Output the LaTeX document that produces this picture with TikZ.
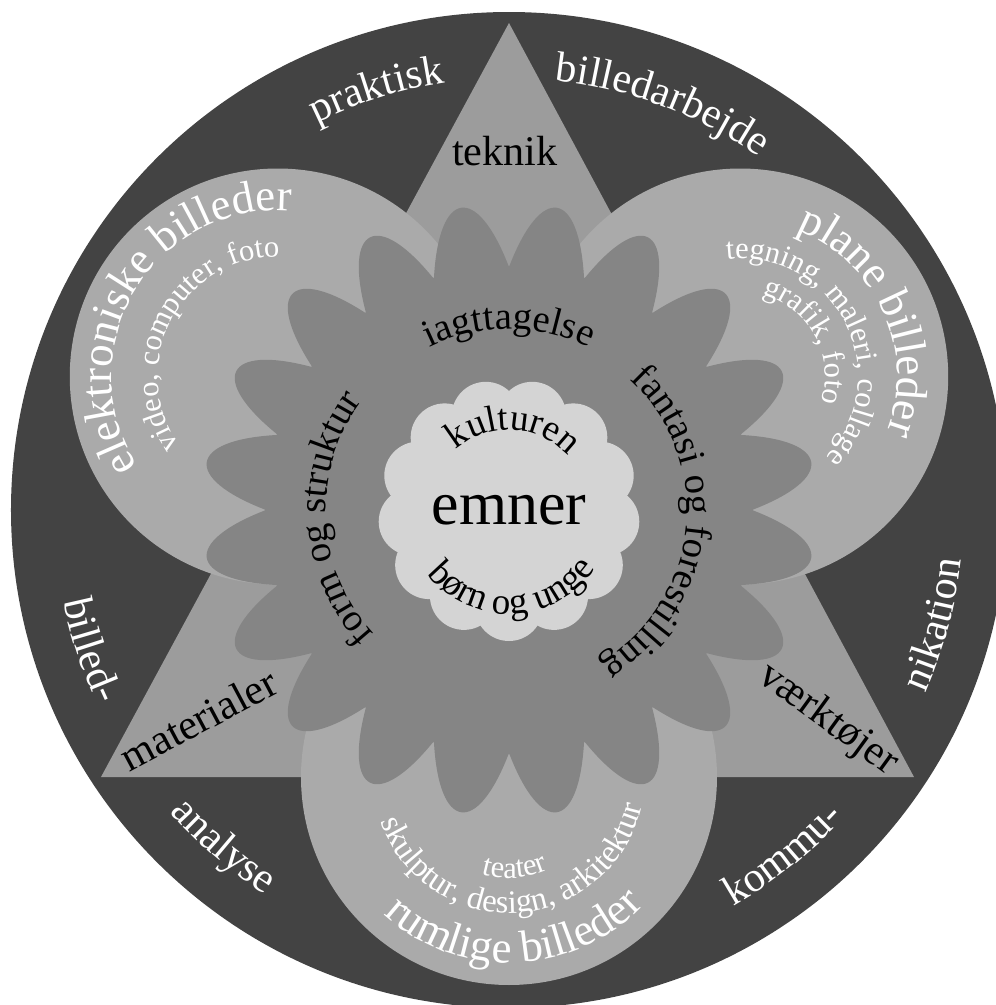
\documentclass[tikz,border=0pt]{standalone}
\usepackage{fontspec}
\setmainfont{Liberation Serif}
\usetikzlibrary{decorations.text}
\definecolor{ringgray}{HTML}{434343}
\definecolor{trigray}{HTML}{9C9C9C}
\definecolor{circgray}{HTML}{AAAAAA}
\definecolor{flowergray}{HTML}{858585}
\definecolor{heartgray}{HTML}{D4D4D4}
\newcommand{\ringfont}{\fontsize{12}{14}\selectfont}
\newcommand{\bigwhitefont}{\fontsize{12.8}{15}\selectfont}
\newcommand{\smallwhitefont}{\fontsize{8.7}{10}\selectfont}
\newcommand{\midwhitefont}{\fontsize{9.3}{11}\selectfont}
\newcommand{\flowerfont}{\fontsize{11}{13}\selectfont}
\newcommand{\heartfont}{\fontsize{10.6}{12}\selectfont}
\newcommand{\emnerfont}{\fontsize{17.6}{20}\selectfont}
\tikzset{
	ring/.style={fill=ringgray},
	wedge/.style={fill=trigray},
	bubble/.style={fill=circgray},
	petal/.style={fill=flowergray},
	heart/.style={fill=heartgray},
	% text bent along a path
	ringtext/.style={decorate, decoration={text along path, text align=center, text color=white, text={|\ringfont|#1}}},
	bigwhite/.style={decorate, decoration={text along path, text align=center, text color=white, text={|\bigwhitefont|#1}}},
	smallwhite/.style={decorate, decoration={text along path, text align=center, text color=white, text={|\smallwhitefont|#1}}},
	midwhite/.style={decorate, decoration={text along path, text align=center, text color=white, text={|\midwhitefont|#1}}},
	flowertext/.style={decorate, decoration={text along path, text align=center, text color=black, text={|\flowerfont|#1}}},
	hearttext/.style={decorate, decoration={text along path, text align=center, text color=black, text={|\heartfont|#1}}},
	cornertext/.style={font=\ringfont, anchor=base, inner sep=0pt},
}

\begin{document}
\begin{tikzpicture}[x=0.01cm, y=0.01cm]
	\useasboundingbox (-509,-495) rectangle (487,510);
	\clip (-509,-495) rectangle (487,510);
	
	\coordinate (c) at (0,0);
	\coordinate (left) at (150:267);
	\coordinate (right) at (30:267);
	\coordinate (bottom) at (270:267);
	
	\fill[ring] (c) circle (498);
	\fill[wedge] (0,487) -- (-408,-267) -- (405,-267) -- cycle;
	
	\fill[bubble] (left) circle (208);
	\fill[bubble] (right) circle (208);
	\fill[bubble] (bottom) circle (208);
	
	% flower with 20 petals
	\fill[petal] (c) circle (244);
	\foreach \a in {9,27,...,351}
		\fill[petal] ({\a-9}:243) .. controls +({\a+12}:46) and +({\a-90}:14) .. (\a:306)
			.. controls +({\a+90}:14) and +({\a-12}:46) .. ({\a+9}:243) -- cycle;
	
	% scalloped middle
	\fill[heart] (c) circle (110);
	\foreach \b in {0,...,12}
		\fill[heart] ({103.846+27.692*\b}:97) circle (34);
	
	% outer ring
	\path[ringtext=praktisk] (127.5:432) arc[start angle=127.5, end angle=87.5, radius=432];
	\path[ringtext=billedarbejde] (94.3:432) arc[start angle=94.3, end angle=44.3, radius=432];
	\path[ringtext=billed-] (183.5:455) arc[start angle=183.5, end angle=213.5, radius=455];
	\path[ringtext=analyse] (214.7:455) arc[start angle=214.7, end angle=244.7, radius=455];
	\path[ringtext=kommu-] (293.5:455) arc[start angle=293.5, end angle=323.5, radius=455];
	\path[ringtext=nikation] (330:455) arc[start angle=330, end angle=360, radius=455];
	
	% triangle corners
	\node (teknik) [cornertext] at (-4,345) {teknik};
	\node (materialer) [cornertext, rotate=28] at (-304,-222) {materialer};
	\node (vaerktojer) [cornertext, rotate=-36] at (313,-218) {værktøjer};
	
	% the three circles
	\begin{scope}[shift={(left)}]
		\path[bigwhite=elektroniske billeder] (224:166) arc[start angle=224, end angle=74, radius=166];
		\path[smallwhite={video, computer, foto}] (227:120) arc[start angle=227, end angle=77, radius=120];
	\end{scope}
	\begin{scope}[shift={(right)}]
		\path[bigwhite=plane billeder] (84:157) arc[start angle=84, end angle=-36, radius=157];
		\path[smallwhite={tegning, maleri, collage}] (101.5:118) arc[start angle=101.5, end angle=-48.5, radius=118];
		\path[smallwhite={grafik, foto}] (88.5:85) arc[start angle=88.5, end angle=-31.5, radius=85];
	\end{scope}
	\begin{scope}[shift={(bottom)}]
		\path[bigwhite=rumlige billeder] (207:186) arc[start angle=207, end angle=337, radius=186];
		\path[midwhite={skulptur, design, arkitektur}] (188.5:136) arc[start angle=188.5, end angle=358.5, radius=136];
		\path[smallwhite=teater] (233.5:101) arc[start angle=233.5, end angle=313.5, radius=101];
	\end{scope}
	
	% flower
	\path[flowertext=iagttagelse] (150:181) arc[start angle=150, end angle=30, radius=181];
	\path[flowertext={fantasi og forestilling}] (64:178) arc[start angle=64, end angle=-76, radius=178];
	\path[flowertext={form og struktur}] (243:183) arc[start angle=243, end angle=123, radius=183];
	
	% middle
	\path[hearttext=kulturen] (157:80) arc[start angle=157, end angle=17, radius=80];
	\path[hearttext={børn og unge}] (192:104) arc[start angle=192, end angle=352, radius=104];
	\node (emner) [font=\emnerfont, anchor=base, inner sep=0pt] at (0,-14) {emner};
\end{tikzpicture}
\end{document}
